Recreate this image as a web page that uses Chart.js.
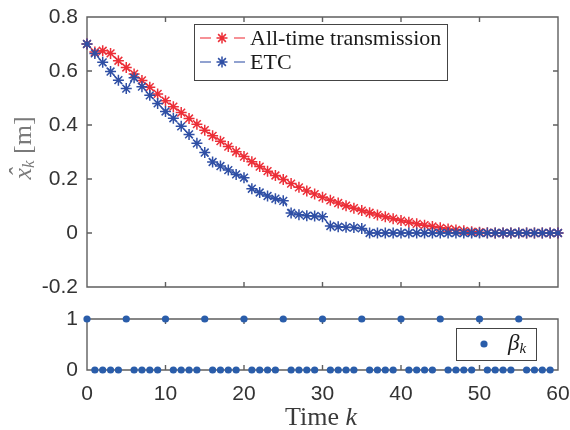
<!DOCTYPE html>
<html>
<head>
<meta charset="utf-8">
<script src="https://cdn.jsdelivr.net/npm/chart.js@4.4.0/dist/chart.umd.min.js"></script>
<style>
  html, body { margin: 0; padding: 0; background: #fff; }
  #wrap { position: relative; width: 570px; height: 430px; }
  .pane { position: absolute; left: 0; width: 570px; }
  #pane-top { top: 0; height: 300px; }
  #pane-bot { top: 300px; height: 130px; }
</style>
</head>
<body>
<div id="wrap">
  <div class="pane" id="pane-top"><canvas id="state-chart"></canvas></div>
  <div class="pane" id="pane-bot"><canvas id="beta-chart"></canvas></div>
</div>
<script>
// ── Data ──────────────────────────────────────────────────────────────────
const TIME_K = [
   0,  1,  2,  3,  4,  5,  6,  7,  8,  9, 10, 11, 12, 13, 14, 15, 16, 17, 18, 19,
  20, 21, 22, 23, 24, 25, 26, 27, 28, 29, 30, 31, 32, 33, 34, 35, 36, 37, 38, 39,
  40, 41, 42, 43, 44, 45, 46, 47, 48, 49, 50, 51, 52, 53, 54, 55, 56, 57, 58, 59, 60,
];

// x̂_k, all-time transmission
const ALL_TIME = [
  0.700, 0.670, 0.675, 0.665, 0.638, 0.613, 0.589, 0.565, 0.540, 0.515,
  0.490, 0.468, 0.446, 0.424, 0.403, 0.381, 0.360, 0.340, 0.320, 0.301,
  0.283, 0.264, 0.246, 0.229, 0.213, 0.198, 0.183, 0.169, 0.156, 0.144,
  0.132, 0.121, 0.111, 0.101, 0.092, 0.083, 0.075, 0.067, 0.060, 0.053,
  0.046, 0.040, 0.034, 0.029, 0.024, 0.019, 0.015, 0.011, 0.008, 0.005,
  0.003, 0.001, 0.000, 0.000, 0.000, 0.000, 0.000, 0.000, 0.000, 0.000, 0.000,
];

// x̂_k, event-triggered
const ETC = [
  0.700, 0.665, 0.632, 0.598, 0.566, 0.535, 0.575, 0.542, 0.510, 0.480,
  0.450, 0.425, 0.395, 0.365, 0.332, 0.298, 0.263, 0.248, 0.233, 0.217,
  0.205, 0.164, 0.150, 0.137, 0.127, 0.119, 0.074, 0.068, 0.064, 0.063,
  0.060, 0.026, 0.023, 0.021, 0.020, 0.017, 0.000, 0.000, 0.000, 0.000,
  0.000, 0.000, 0.000, 0.000, 0.000, 0.000, 0.000, 0.000, 0.000, 0.000,
  0.000, 0.000, 0.000, 0.000, 0.000, 0.000, 0.000, 0.000, 0.000, 0.000, 0.000,
];

const BETA_K = [
   0,  1,  2,  3,  4,  5,  6,  7,  8,  9, 10, 11, 12, 13, 14, 15, 16, 17, 18, 19,
  20, 21, 22, 23, 24, 25, 26, 27, 28, 29, 30, 31, 32, 33, 34, 35, 36, 37, 38, 39,
  40, 41, 42, 43, 44, 45, 46, 47, 48, 49, 50, 51, 52, 53, 54, 55, 56, 57, 58, 59,
];
const BETA = [
  1, 0, 0, 0, 0, 1, 0, 0, 0, 0, 1, 0, 0, 0, 0, 1, 0, 0, 0, 0,
  1, 0, 0, 0, 0, 1, 0, 0, 0, 0, 1, 0, 0, 0, 0, 1, 0, 0, 0, 0,
  1, 0, 0, 0, 0, 1, 0, 0, 0, 0, 1, 0, 0, 0, 0, 1, 0, 0, 0, 0,
];

const X_TICKS     = [0, 10, 20, 30, 40, 50, 60];
const Y_TICKS_TOP = [-0.2, 0, 0.2, 0.4, 0.6, 0.8];
const Y_TICKS_BOT = [0, 1];

// ── Style ─────────────────────────────────────────────────────────────────
const RED  = '#EC2F38';
const BLUE = '#2F4FA5';
const DOT  = '#2A5DAA';
const AXIS = '#5F5F5F';
const TEXT = '#333333';
const TICK_FONT  = { family: "'Liberation Sans', Arial, sans-serif", size: 21 };
const SERIF = "'Liberation Serif', 'Times New Roman', serif";

const pinTicks = list => scale => { scale.ticks = list.map(v => ({ value: v })); };
const fmt = v => String(+v.toFixed(1));

// axes span the whole plot box: no extra room for end labels
const yFit = scale => { scale.width = 87; scale.paddingTop = 0; scale.paddingBottom = 0; };
const xFit = h => scale => { scale.height = h; scale.paddingLeft = 0; scale.paddingRight = 0; };

// MATLAB-like box with inward tick marks
const frame = {
  id: 'frame',
  beforeDatasetsDraw(chart) {
    const { ctx, chartArea: a, scales } = chart;
    ctx.save();
    ctx.strokeStyle = AXIS;
    ctx.lineWidth = 1.4;
    ctx.beginPath();
    ctx.rect(a.left, a.top, a.right - a.left, a.bottom - a.top);
    scales.x.ticks.forEach(t => {
      const px = scales.x.getPixelForValue(t.value);
      ctx.moveTo(px, a.bottom); ctx.lineTo(px, a.bottom - 5);
      ctx.moveTo(px, a.top);    ctx.lineTo(px, a.top + 5);
    });
    scales.y.ticks.forEach(t => {
      const py = scales.y.getPixelForValue(t.value);
      ctx.moveTo(a.left, py);  ctx.lineTo(a.left + 5, py);
      ctx.moveTo(a.right, py); ctx.lineTo(a.right - 5, py);
    });
    ctx.stroke();
    ctx.restore();
  },
};

// draws base text + italic/subscript parts left to right
function richText(ctx, parts, x, y, align) {
  const widths = parts.map(p => { ctx.font = p.font; return ctx.measureText(p.text).width; });
  const total = widths.reduce((s, w) => s + w, 0);
  let cx = align === 'center' ? x - total / 2 : x;
  parts.forEach((p, i) => {
    ctx.font = p.font;
    ctx.fillText(p.text, cx, y + (p.dy || 0));
    if (p.hat) {
      ctx.textAlign = 'center';
      ctx.fillText('\u02C6', cx + widths[i] / 2 + 1, y - 4);
      ctx.textAlign = 'left';
    }
    cx += widths[i];
  });
}

const topDecor = {
  id: 'topDecor',
  afterDraw(chart) {
    const ctx = chart.ctx;
    ctx.save();
    // y label  x̂_k [m]
    ctx.translate(24, 148);
    ctx.rotate(-Math.PI / 2);
    ctx.fillStyle = '#7A7A7A';
    ctx.textAlign = 'left';
    ctx.textBaseline = 'middle';
    richText(ctx, [
      { text: 'x', font: `italic 26px ${SERIF}`, hat: true },
      { text: 'k', font: `italic 17px ${SERIF}`, dy: 6 },
      { text: ' [m]', font: `26px ${SERIF}` },
    ], 0, 0, 'center');
    ctx.restore();

    // legend
    ctx.save();
    const bx = 194, by = 24, bw = 253, bh = 56;
    ctx.fillStyle = '#fff';
    ctx.fillRect(bx, by, bw, bh);
    ctx.strokeStyle = '#444';
    ctx.lineWidth = 1;
    ctx.strokeRect(bx + 0.5, by + 0.5, bw, bh);
    [0, 1].forEach(i => {
      const ds = chart.data.datasets[i];
      const y = by + 14 + i * 24;
      ctx.strokeStyle = ds.borderColor;
      ctx.globalAlpha = 0.7;
      ctx.lineWidth = 1.3;
      ctx.beginPath();
      ctx.moveTo(200, y); ctx.lineTo(211, y);
      ctx.moveTo(234, y); ctx.lineTo(245, y);
      ctx.stroke();
      ctx.globalAlpha = 1;
      ctx.fillStyle = ds.borderColor;
      ctx.lineWidth = 1.5;
      Chart.helpers.drawPoint(ctx, { pointStyle: 'star', radius: 5.5, rotation: 0, borderWidth: 1.5 }, 222, y);
      ctx.fillStyle = '#1a1a1a';
      ctx.font = `22px ${SERIF}`;
      ctx.textAlign = 'left';
      ctx.textBaseline = 'middle';
      ctx.fillText(ds.label, 250, y + 1);
    });
    ctx.restore();
  },
};

const botDecor = {
  id: 'botDecor',
  afterDraw(chart) {
    const ctx = chart.ctx;
    ctx.save();
    ctx.fillStyle = '#3A3A3A';
    ctx.textBaseline = 'middle';
    ctx.textAlign = 'left';
    richText(ctx, [
      { text: 'Time ', font: `26px ${SERIF}` },
      { text: 'k', font: `italic 26px ${SERIF}` },
    ], 321, 118, 'center');

    // legend
    const bx = 456, by = 28, bw = 80, bh = 32;
    ctx.fillStyle = '#fff';
    ctx.fillRect(bx, by, bw, bh);
    ctx.strokeStyle = '#444';
    ctx.lineWidth = 1;
    ctx.strokeRect(bx + 0.5, by + 0.5, bw, bh);
    ctx.fillStyle = DOT;
    ctx.beginPath();
    ctx.arc(484, 44, 3.6, 0, Math.PI * 2);
    ctx.fill();
    ctx.fillStyle = '#1a1a1a';
    richText(ctx, [
      { text: '\u03B2', font: `italic 23px ${SERIF}` },
      { text: 'k', font: `italic 15px ${SERIF}`, dy: 5 },
    ], 508, 44, 'left');
    ctx.restore();
  },
};

Chart.defaults.font.family = TICK_FONT.family;
Chart.defaults.color = TEXT;

// ── Top: state estimate ───────────────────────────────────────────────────
new Chart(document.getElementById('state-chart'), {
  type: 'line',
  data: {
    datasets: [
      {
        label: 'All-time transmission',
        data: TIME_K.map((k, i) => ({ x: k, y: ALL_TIME[i] })),
        borderColor: RED,
        backgroundColor: RED,
        borderWidth: 1.2,
        borderDash: [5, 3],
        pointStyle: 'star',
        pointRadius: 5.5,
        pointBorderWidth: 1.5,
        pointBorderColor: RED,
        clip: false,
        order: 2,
      },
      {
        label: 'ETC',
        data: TIME_K.map((k, i) => ({ x: k, y: ETC[i] })),
        borderColor: BLUE,
        backgroundColor: BLUE,
        borderWidth: 1.2,
        borderDash: [5, 3],
        pointStyle: 'star',
        pointRadius: 5.5,
        pointBorderWidth: 1.5,
        pointBorderColor: BLUE,
        clip: false,
        order: 1,
      },
    ],
  },
  options: {
    responsive: true,
    maintainAspectRatio: false,
    animation: false,
    layout: { autoPadding: false, padding: { top: 17, right: 12, bottom: 13, left: 0 } },
    plugins: { legend: { display: false }, tooltip: { enabled: false } },
    scales: {
      x: {
        type: 'linear', min: 0, max: 60,
        afterBuildTicks: pinTicks(X_TICKS),
        afterFit: xFit(0),
        grid: { display: false, drawTicks: false },
        border: { display: false },
        ticks: { display: false },
      },
      y: {
        type: 'linear', min: -0.2, max: 0.8,
        afterBuildTicks: pinTicks(Y_TICKS_TOP),
        afterFit: yFit,
        grid: { display: false, drawTicks: false },
        border: { display: false },
        ticks: { font: TICK_FONT, color: TEXT, padding: 9, callback: fmt },
      },
    },
  },
  plugins: [frame, topDecor],
});

// ── Bottom: transmission indicator β_k ────────────────────────────────────
new Chart(document.getElementById('beta-chart'), {
  type: 'scatter',
  data: {
    datasets: [{
      label: 'β_k',
      data: BETA_K.map((k, i) => ({ x: k, y: BETA[i] })),
      backgroundColor: DOT,
      borderColor: DOT,
      pointRadius: 3.6,
      pointBorderWidth: 0,
      clip: false,
    }],
  },
  options: {
    responsive: true,
    maintainAspectRatio: false,
    animation: false,
    layout: { autoPadding: false, padding: { top: 19, right: 12, bottom: 0, left: 0 } },
    plugins: { legend: { display: false }, tooltip: { enabled: false } },
    scales: {
      x: {
        type: 'linear', min: 0, max: 60,
        afterBuildTicks: pinTicks(X_TICKS),
        afterFit: xFit(60),
        grid: { display: false, drawTicks: false },
        border: { display: false },
        ticks: { font: TICK_FONT, color: TEXT, padding: 12, maxRotation: 0 },
      },
      y: {
        type: 'linear', min: 0, max: 1,
        afterBuildTicks: pinTicks(Y_TICKS_BOT),
        afterFit: yFit,
        grid: { display: false, drawTicks: false },
        border: { display: false },
        ticks: { font: TICK_FONT, color: TEXT, padding: 9 },
      },
    },
  },
  plugins: [frame, botDecor],
});
</script>
</body>
</html>
